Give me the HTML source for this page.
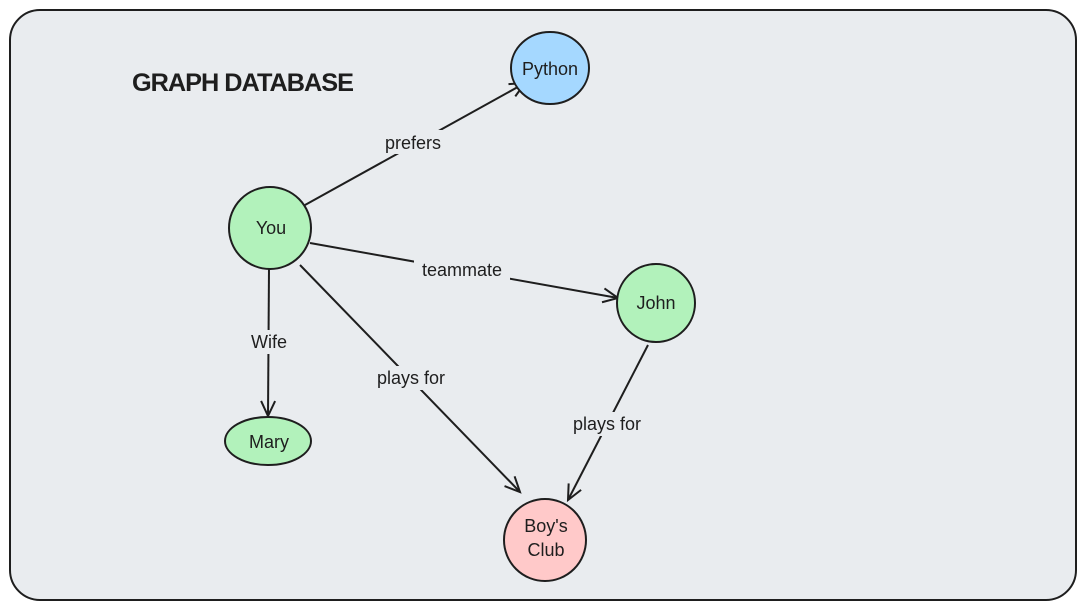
<!DOCTYPE html>
<html><head><style>
body{margin:0;background:#fff;}
svg{display:block;font-family:"Liberation Sans",sans-serif;}
</style></head><body>
<svg width="1086" height="610" viewBox="0 0 1086 610">
<defs><marker id="a" markerWidth="20" markerHeight="20" refX="16" refY="10" orient="auto" markerUnits="userSpaceOnUse"><path d="M1,3 L16,10 L1,17" fill="none" stroke="#1e1e1e" stroke-width="2"/></marker></defs>
<rect x="10" y="10" width="1066" height="590" rx="30" fill="#e9ecef" stroke="#1e1e1e" stroke-width="2"/>
<text x="132" y="91" font-size="25" font-weight="bold" fill="#1e1e1e" letter-spacing="-1" textLength="221" lengthAdjust="spacingAndGlyphs">GRAPH DATABASE</text>
<g stroke="#1e1e1e" stroke-width="2" fill="none">
<line x1="305" y1="205" x2="525" y2="83" marker-end="url(#a)"/>
<line x1="310" y1="243" x2="618" y2="298" marker-end="url(#a)"/>
<line x1="269" y1="268" x2="268" y2="416" marker-end="url(#a)"/>
<line x1="300" y1="265" x2="520" y2="492" marker-end="url(#a)"/>
<line x1="648" y1="345" x2="568" y2="500" marker-end="url(#a)"/>
</g>
<g font-size="18" fill="#1e1e1e" text-anchor="middle">
<rect x="378" y="130" width="70" height="24" fill="#e9ecef"/><text x="413" y="149">prefers</text>
<rect x="414" y="258" width="96" height="24" fill="#e9ecef"/><text x="462" y="276">teammate</text>
<rect x="244" y="330" width="50" height="24" fill="#e9ecef"/><text x="269" y="348">Wife</text>
<rect x="366" y="366" width="90" height="24" fill="#e9ecef"/><text x="411" y="384">plays for</text>
<rect x="562" y="412" width="90" height="24" fill="#e9ecef"/><text x="607" y="430">plays for</text>
</g>
<g stroke="#1e1e1e" stroke-width="2">
<ellipse cx="550" cy="68" rx="39" ry="36" fill="#a5d8ff"/>
<circle cx="270" cy="228" r="41" fill="#b2f2bb"/>
<circle cx="656" cy="303" r="39" fill="#b2f2bb"/>
<ellipse cx="268" cy="441" rx="43" ry="24" fill="#b2f2bb"/>
<circle cx="545" cy="540" r="41" fill="#ffc9c9"/>
</g>
<g font-size="18" fill="#1e1e1e" text-anchor="middle">
<text x="550" y="75">Python</text>
<text x="271" y="234">You</text>
<text x="656" y="309">John</text>
<text x="269" y="448">Mary</text>
<text x="546" y="532">Boy's</text>
<text x="546" y="556">Club</text>
</g>
</svg>
</body></html>
